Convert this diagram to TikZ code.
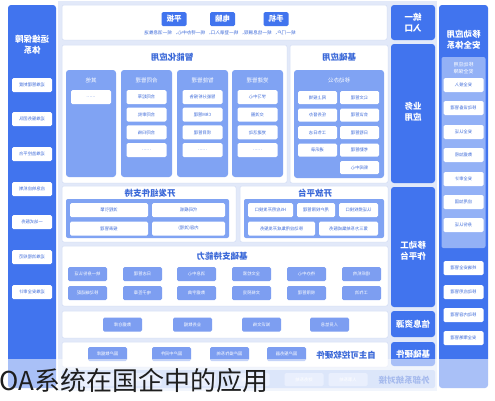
\documentclass[tikz,border=0pt]{standalone}
\usepackage{fontspec}
\setmainfont{Noto Sans CJK SC}
\definecolor{cmain}{HTML}{4174EE}
\definecolor{ccard}{HTML}{80A3F3}
\definecolor{citem}{HTML}{7D9EF1}
\definecolor{cbg}{HTML}{E2E9F9}
\definecolor{cline}{HTML}{D3DDF5}
\definecolor{chead}{HTML}{3A68D8}
\definecolor{cinner}{HTML}{93B1F6}
\definecolor{crow}{HTML}{B3C8F6}
\definecolor{crowitem}{HTML}{D0DDFB}
\definecolor{ccap}{HTML}{1E1E1E}
\begin{document}
\begin{tikzpicture}[x=1pt,y=-1pt,
  mir/.style={xscale=-1},
  coltxt/.style={mir, text=white, font=\fontsize{8.5}{11}\selectfont\bfseries, align=center, inner sep=0pt},
  colbox/.style={fill=cmain, rounded corners=3pt, inner sep=0pt},
  panel/.style={fill=white, draw=cline, line width=0.5pt, rounded corners=2pt},
  wbox/.style={mir, fill=white, rounded corners=1.5pt, minimum width=40pt, minimum height=14pt, inner sep=0pt, text=chead, font=\fontsize{4.3}{5}\selectfont},
  bbox/.style={mir, fill=citem, rounded corners=1.5pt, minimum width=39pt, minimum height=14pt, inner sep=0pt, text=white, font=\fontsize{4.3}{5}\selectfont},
  btn/.style={mir, fill=cmain, rounded corners=1.5pt, minimum width=25pt, minimum height=14pt, inner sep=0pt, text=white, font=\fontsize{7.5}{8}\selectfont\bfseries},
  head/.style={mir, text=chead, font=\fontsize{8.5}{10}\selectfont\bfseries, inner sep=0pt},
  card/.style={fill=ccard, rounded corners=3pt},
  ctitle/.style={mir, text=white, font=\fontsize{5.5}{6}\selectfont, inner sep=0pt},
]
\useasboundingbox (0,0) rectangle (495,400);
\fill[white] (0,0) rectangle (495,400);
\fill[cbg] (58,1) rectangle (437,391);

% ---------- left column: 运维保障体系 ----------
\fill[cmain, rounded corners=3pt] (8,5) rectangle (56,388);
\node[coltxt] (opsT) at (32,45) {运维保障\\体系};
\foreach \yy/\tt [count=\i] in {85/运维管理制度,119/运维服务团队,154/运维监控平台,189/应急响应机制,222/一站式服务,257/运维流程规范,292/运维安全审计}
  \node[wbox] (ops\i) at (32,\yy) {\tt};

% ---------- far right column: 移动应用安全体系 ----------
\fill[cmain, rounded corners=3pt] (439,5) rectangle (488,388);
\node[coltxt] (secT) at (463.5,40) {移动应用\\安全体系};
\fill[cinner, rounded corners=2pt] (441.5,57) rectangle (485.5,248);
\node[mir, text=white, font=\fontsize{5}{6.5}\selectfont, align=center, inner sep=0pt] (secS) at (463.5,68) {移动应用\\安全保障};
\foreach \yy/\tt [count=\i] in {85/安全接入,108/移动设备管理,132/安全认证,155/数据加密,179/安全审计,202/应用加固,225/身份认证,268/终端安全管理,292/移动应用管理,315/移动内容管理,338/安全策略管理}
  \node[wbox] (sec\i) at (463.5,\yy) {\tt};

% ---------- layer labels ----------
\node[colbox, minimum width=44pt, minimum height=35pt] (entryB) at (413,22.5) {};
\node[coltxt] (entryT) at (413,22.5) {统一\\入口};
\node[colbox, minimum width=44pt, minimum height=139pt] (bizB) at (413,113.5) {};
\node[coltxt] (bizT) at (413,112) {业务\\应用};
\node[colbox, minimum width=44pt, minimum height=120pt] (mobB) at (413,247) {};
\node[coltxt] (mobT) at (413,251) {移动工\\作平台};
\node[colbox, minimum width=44pt, minimum height=26pt] (infoB) at (413,324) {};
\node[coltxt] (infoT) at (413,324) {信息资源};
\node[colbox, minimum width=44pt, minimum height=24pt] (hwB) at (413,354) {};
\node[coltxt] (hwT) at (413,354) {基础硬件};

% ---------- top: devices ----------
\draw[panel] (62,5) rectangle (387,40);
\node[btn] (pad) at (174,19) {平板};
\node[btn] (pc) at (222.5,19) {电脑};
\node[btn] (phone) at (276,19) {手机};
\node[mir, text=chead, font=\fontsize{4.6}{5}\selectfont, inner sep=0pt] (portal) at (220,33) {统一门户、\ 统一信息展现、\ 统一登录入口、\ 统一待办中心、\ 统一消息推送};

% ---------- row 2: 智能化应用 ----------
\draw[panel] (62,45) rectangle (287,183);
\node[head] (smartT) at (172,57) {智能化应用};
\fill[card] (66,70) rectangle (116,177);
\fill[card] (121,70) rectangle (172,177);
\fill[card] (177,70) rectangle (228,177);
\fill[card] (232,70) rectangle (283,177);
\node[ctitle] (c1T) at (91,80) {其他};
\node[ctitle] (c2T) at (146.5,80) {合同管理};
\node[ctitle] (c3T) at (202.5,80) {智能管理};
\node[ctitle] (c4T) at (257.5,80) {党建管理};
\node[wbox] (c1a) at (91,97) {……};
\foreach \tt [count=\i] in {合同起草,合同审批,合同归档,……}
  \node[wbox] (c2\i) at (146.5,{97+17.7*(\i-1)}) {\tt};
\foreach \tt [count=\i] in {智能分析报告,CRM管理,项目管理,……}
  \node[wbox] (c3\i) at (202.5,{97+17.7*(\i-1)}) {\tt};
\foreach \tt [count=\i] in {学习中心,交流圈,党建活动,……}
  \node[wbox] (c4\i) at (257.5,{97+17.7*(\i-1)}) {\tt};

% ---------- row 2: 基础应用 ----------
\draw[panel] (290,45) rectangle (388,183);
\node[head] (baseT) at (339,57) {基础应用};
\fill[card] (294,70) rectangle (384,178);
\node[ctitle] (moT) at (339,80) {移动办公};
\foreach \tt [count=\i] in {网上报销,任务督办,工作日志,通讯录}
  \node[wbox, minimum width=39pt, minimum height=13pt] (moL\i) at (317.5,{97.5+17.5*(\i-1)}) {\tt};
\foreach \tt [count=\i] in {公文管理,会议管理,日程管理,考勤管理,新闻中心}
  \node[wbox, minimum width=39pt, minimum height=13pt] (moR\i) at (359.5,{97.5+17.5*(\i-1)}) {\tt};

% ---------- row 3: 开发组件支持 ----------
\draw[panel] (62,186) rectangle (236,242);
\node[head] (devT) at (150,193) {开发组件支持};
\fill[ccard, rounded corners=2pt] (66,199) rectangle (229,238);
\node[wbox, minimum width=78pt] (dev1) at (109,210) {流程引擎};
\node[wbox, minimum width=78pt] (dev2) at (109,228.5) {报表管理};
\node[wbox, minimum width=73pt] (dev3) at (188.5,210) {代码模板};
\node[wbox, minimum width=73pt] (dev4) at (188.5,228.5) {内容(流程)};

% ---------- row 3: 开放平台 ----------
\draw[panel] (240,186) rectangle (388,242);
\node[head] (openT) at (315,193) {开放平台};
\fill[ccard, rounded corners=2pt] (244,199) rectangle (384,238);
\node[wbox, minimum width=45pt] (op1) at (270.5,210) {H5应用开发接口};
\node[wbox, minimum width=38pt] (op2) at (316,210) {用户权限管理};
\node[wbox, minimum width=39pt] (op3) at (358.5,210) {认证授权接口};
\node[wbox, minimum width=67pt] (op4) at (281.5,228.5) {移动应用集成开发服务};
\node[wbox, minimum width=59pt] (op5) at (348.5,228.5) {第三方系统集成服务};

% ---------- row 4: 基础支持能力 ----------
\draw[panel] (62,246) rectangle (388,306);
\node[head] (supT) at (222,256) {基础支持能力};
\foreach \xx/\ta/\tb [count=\i] in {87.5/统一身份认证/移动端适配,142.5/日志管理/电子签章,196.5/消息中心/数据字典,251.5/全文检索/文档预览,306.5/待办中心/权限管理,361.5/组织机构/工作流}
{
  \node[bbox] (supA\i) at (\xx,274) {\ta};
  \node[bbox] (supB\i) at (\xx,293) {\tb};
}

% ---------- row 5: 信息资源 ----------
\draw[panel] (62,311) rectangle (388,338);
\foreach \xx/\tt [count=\i] in {122.5/数据仓库,192.5/业务数据,261.5/知识文档,329.5/人员信息}
  \node[bbox] (res\i) at (\xx,324.5) {\tt};

% ---------- row 6: 自主可控软硬件 ----------
\draw[panel] (62,342) rectangle (388,367);
\node[head] (hwRowT) at (346,355) {自主可控软硬件};
\foreach \xx/\tt [count=\i] in {107.5/国产数据库,171.5/国产中间件,229.5/国产操作系统,286.5/国产服务器}
  \node[bbox] (hwi\i) at (\xx,354) {\tt};

% ---------- row 7: 外部系统对接 ----------
\fill[crow, rounded corners=2pt] (62,370) rectangle (435,388);
\node[head] (extT) at (404,380) {外部系统对接};
\foreach \xx/\tt [count=\i] in {348/人事系统,304/财务系统,250/档案系统,196/采购系统,142/资产系统,98/邮件系统}
  \node[bbox, fill=crowitem, minimum height=13pt] (ext\i) at (\xx,379.5) {\tt};

% ---------- caption overlay ----------
\fill[white, opacity=0.55] (0,359) rectangle (495,400);
\node[anchor=base west, inner sep=0pt, text=ccap, font=\fontsize{26}{29}\selectfont] (caption) at (-1,390.5) {OA系统在国企中的应用};
\end{tikzpicture}
\end{document}
